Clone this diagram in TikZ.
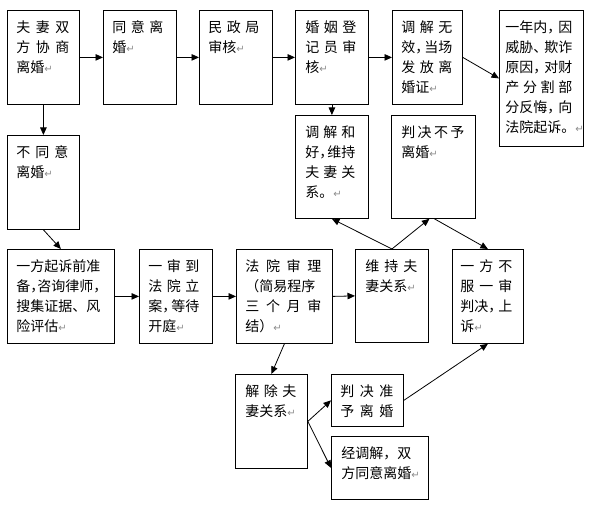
\documentclass[tikz,border=0pt]{standalone}
\usepackage{fontspec}
\setmainfont{Noto Sans CJK SC}
\newfontfamily\djv{DejaVu Sans}
\usetikzlibrary{arrows.meta}
\newlength\spw
\newcommand\s[1]{\leavevmode\hbox to\spw{#1}}
\newcommand\ret{{\djv\fontsize{10}{10}\selectfont\textcolor{black!45}{↵}}}
\newcommand\cm{\makebox[7pt][l]{，}}
\newcommand\dn{\makebox[7pt][l]{、}}
\newcommand\bt[5]{\parbox[c][#2][t]{#1}{\setlength\spw{#4}\leftskip=#3\relax\fontsize{14}{20}\selectfont\vspace*{10pt}#5}}
\begin{document}
\begin{tikzpicture}[x=1pt,y=-1pt,
  box/.style={draw, line width=0.8pt, inner sep=0pt, anchor=north west},
  arr/.style={line width=0.8pt, -{Triangle[length=7.5pt,width=6.5pt]}}]
\path[use as bounding box, fill=white] (0,0) rectangle (594,505);
% top row
\node[box] (b1) at (7,10) {\bt{72pt}{94pt}{9pt}{53pt}{\s{夫\hfill 妻\hfill 双}\par\s{方\hfill 协\hfill 商}\par 离婚\ret}};
\node[box] (b2) at (103,10) {\bt{73pt}{94pt}{9pt}{51pt}{\s{同\hfill 意\hfill 离}\par 婚\ret}};
\node[box] (b3) at (199,10) {\bt{73pt}{94pt}{9pt}{51pt}{\s{民\hfill 政\hfill 局}\par 审核\ret}};
\node[box] (b4) at (295,10) {\bt{73pt}{94pt}{10pt}{51pt}{\s{婚\hfill 姻\hfill 登}\par\s{记\hfill 员\hfill 审}\par 核\ret}};
\node[box] (b5) at (392,10) {\bt{70pt}{94pt}{9pt}{51pt}{\s{调\hfill 解\hfill 无}\par\s{效\cm\hfill 当场}\par\s{发\hfill 放\hfill 离}\par 婚证\ret}};
\node[box] (b6) at (499,10) {\bt{84pt}{136pt}{6pt}{67pt}{\s{一年内\cm\hfill 因}\par\s{威胁\dn\hfill 欺诈}\par\s{原因\cm\hfill 对财}\par\s{产\hfill 分\hfill 割\hfill 部}\par\s{分反悔\cm\hfill 向}\par 法院起诉。\ret}};
% second row
\node[box] (b7) at (295,115) {\bt{73pt}{103pt}{10pt}{50pt}{\s{调\hfill 解\hfill 和}\par\s{好\cm\hfill 维持}\par\s{夫\hfill 妻\hfill 关}\par 系。\ret}};
\node[box] (b8) at (391,115) {\bt{84pt}{103pt}{10pt}{63pt}{\s{判\hfill 决\hfill 不\hfill 予}\par 离婚\ret}};
\node[box] (b9) at (7,135) {\bt{72pt}{94pt}{9pt}{52pt}{\s{不\hfill 同\hfill 意}\par 离婚\ret}};
% third row
\node[box] (b10) at (7,249) {\bt{107pt}{94pt}{9pt}{90pt}{一方起诉前准\par 备\cm 咨询律师\cm\par 搜集证据、风\par 险评估\ret}};
\node[box] (b11) at (139,249) {\bt{73pt}{94pt}{9pt}{51pt}{\s{一\hfill 审\hfill 到}\par\s{法\hfill 院\hfill 立}\par\s{案\cm\hfill 等待}\par 开庭\ret}};
\node[box] (b12) at (236,249) {\bt{96pt}{94pt}{9pt}{76pt}{\s{法\hfill 院\hfill 审\hfill 理}\par （简易程序\par\s{三\hfill 个\hfill 月\hfill 审}\par 结）\ret}};
\node[box] (b13) at (355,249) {\bt{73pt}{93pt}{10pt}{52pt}{\s{维\hfill 持\hfill 夫}\par 妻关系\ret}};
\node[box] (b14) at (452,249) {\bt{71pt}{94pt}{8pt}{52pt}{\s{一\hfill 方\hfill 不}\par\s{服\hfill 一\hfill 审}\par\s{判决\cm\hfill 上}\par 诉\ret}};
% bottom
\node[box] (b15) at (235,374) {\bt{72pt}{94pt}{10pt}{51pt}{\s{解\hfill 除\hfill 夫}\par 妻关系\ret}};
\node[box] (b16) at (331,374) {\bt{72pt}{52pt}{9pt}{53pt}{\s{判\hfill 决\hfill 准}\par\s{予\hfill 离\hfill 婚}}};
\node[box] (b17) at (331,436) {\bt{97pt}{63pt}{10pt}{75pt}{经调解，双\par 方同意离婚\ret}};
% connectors
\draw[arr] (b1.east) -- (b2.west);
\draw[arr] (b2.east) -- (b3.west);
\draw[arr] (b3.east) -- (b4.west);
\draw[arr] (b4.east) -- (b5.west);
\draw[arr] (b5.east) -- (b6.west);
\draw[arr] (b1.south) -- (b9.north);
\draw[arr] (b4.south) -- (b7.north);
\draw[arr] (b9.south) -- (b10.north);
\draw[arr] (b10.east) -- (b11.west);
\draw[arr] (b11.east) -- (b12.west);
\draw[arr] (b12.east) -- (b13.west);
\draw[arr] (b12.south) -- (b15.north);
\draw[arr] (b15.east) -- (b16.west);
\draw[arr] (b15.east) -- (b17.west);
\draw[arr] (b16.east) -- (b14.south);
\draw[arr] (b13.north) -- (b7.south);
\draw[arr] (b13.north) -- ([xshift=-4pt]b8.south);
\draw[arr] ([xshift=1pt]b8.south) -- (b14.north);
\end{tikzpicture}
\end{document}
